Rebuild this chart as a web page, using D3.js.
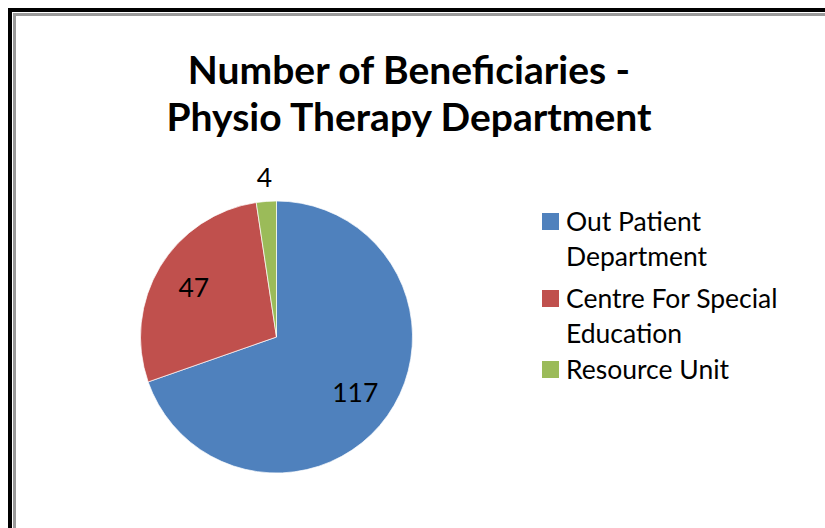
<!DOCTYPE html>
<html>
<head>
<meta charset="utf-8">
<script src="https://cdn.jsdelivr.net/npm/d3@7"></script>
<style>
  body { margin: 0; background: #fff; }
  svg { display: block; }
</style>
</head>
<body>
<div id="chart"></div>
<script>
// data
const categories = ["Out Patient Department", "Centre For Special Education", "Resource Unit"]
const values = [117, 47, 4]
// legend lines as they wrap in the original
const legendLines = [["Out Patient", "Department"], ["Centre For Special", "Education"], ["Resource Unit"]]
const titleLines = ["Number of Beneficiaries -", "Physio Therapy Department"]

const width = 825, height = 528

const svg = d3.select("#chart")
    .append("svg")
    .attr("width", width)
    .attr("height", height)

// frame: black outer line and grey inner line
svg.append("rect")
    .attr("x", 10).attr("y", 10)
    .attr("width", width + 20).attr("height", height + 20)
    .attr("fill", "none")
    .attr("stroke", "#000")
    .attr("stroke-width", 4)
svg.append("rect")
    .attr("x", 14.5).attr("y", 14.5)
    .attr("width", width + 20).attr("height", height + 20)
    .attr("fill", "none")
    .attr("stroke", "#9a9a9a")
    .attr("stroke-width", 3)

const font = "Lato, 'Open Sans', sans-serif"

// title
svg.append("g")
    .selectAll("text")
    .data(titleLines)
    .join("text")
    .attr("x", 409)
    .attr("y", (d, i) => 84 + i * 47)
    .attr("text-anchor", "middle")
    .style("font-family", font)
    .style("font-weight", "bold")
    .style("font-size", "39px")
    .style("fill", "#000")
    .text(d => d)

const color = d3.scaleOrdinal()
    .domain(categories)
    .range(["#4f81bd", "#c0504d", "#9bbb59"])

const cx = 276.5, cy = 337, radius = 136

const pie = d3.pie().sort(null).value(d => d.value)
const data = categories.map((c, i) => ({name: c, value: values[i]}))
const arcs = pie(data)
const total = d3.sum(values)

const arc = d3.arc().innerRadius(0).outerRadius(radius)
const labelArc = d3.arc().innerRadius(radius * 0.71).outerRadius(radius * 0.71)
const outerLabelArc = d3.arc().innerRadius(radius * 1.18).outerRadius(radius * 1.18)

const pieG = svg.append("g").attr("transform", `translate(${cx}, ${cy})`)

pieG.selectAll("path")
    .data(arcs)
    .join("path")
    .attr("d", arc)
    .attr("fill", d => color(d.data.name))
    .attr("stroke", "#fff")
    .attr("stroke-width", 0.7)

pieG.selectAll("text")
    .data(arcs)
    .join("text")
    .attr("transform", d => {
        const small = d.data.value / total < 0.05
        const p = (small ? outerLabelArc : labelArc).centroid(d)
        return `translate(${p[0]}, ${p[1]})`
    })
    .attr("dy", "0.36em")
    .attr("text-anchor", "middle")
    .style("font-family", font)
    .style("font-size", "26.5px")
    .style("fill", "#000")
    .text(d => d.data.value)

// legend
const legend = svg.append("g").attr("transform", "translate(542, 213)")
const rowY = [0, 77, 148]

const items = legend.selectAll("g")
    .data(categories)
    .join("g")
    .attr("transform", (d, i) => `translate(0, ${rowY[i]})`)

items.append("rect")
    .attr("width", 17)
    .attr("height", 17)
    .attr("fill", d => color(d))

items.append("text")
    .attr("x", 24)
    .style("font-family", font)
    .style("font-size", "26.5px")
    .style("fill", "#000")
    .selectAll("tspan")
    .data((d, i) => legendLines[i])
    .join("tspan")
    .attr("x", 24)
    .attr("y", (d, j) => 18 + j * 35)
    .text(d => d)
</script>
</body>
</html>
